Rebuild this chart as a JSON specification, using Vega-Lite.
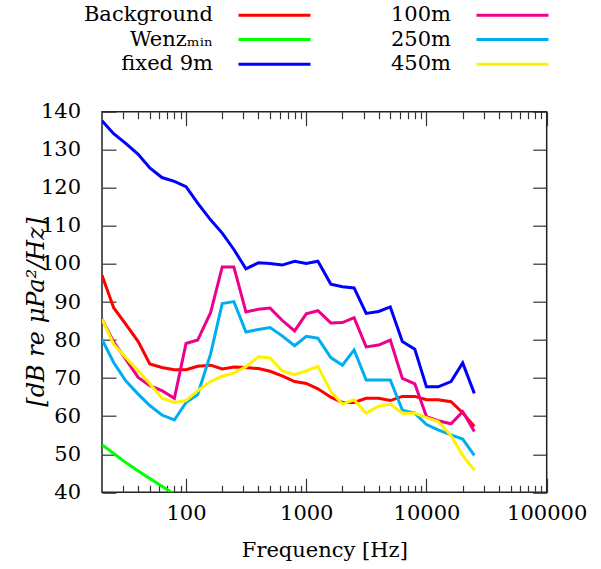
{
  "$schema": "https://vega.github.io/schema/vega-lite/v6.json",
  "width": 444.7,
  "height": 380.6,
  "autosize": "none",
  "padding": {"left": 102, "top": 111.7, "right": 54.3, "bottom": 76.7},
  "background": "white",
  "config": {
    "view": {"stroke": "#222", "strokeWidth": 1.5},
    "axis": {"grid": false, "domain": false, "tickColor": "#333", "tickWidth": 1.2, "labelColor": "black", "titleColor": "black", "labelFontSize": 21, "titleFontSize": 21, "titleFontWeight": "normal"}
  },
  "data": {
    "values": [
      {"f": 20, "v": 97.0, "s": "Background"}, {"f": 25, "v": 88.5, "s": "Background"}, {"f": 31.5, "v": 84.2, "s": "Background"}, {"f": 40, "v": 79.6, "s": "Background"}, {"f": 50, "v": 73.7, "s": "Background"}, {"f": 63, "v": 72.8, "s": "Background"}, {"f": 80, "v": 72.2, "s": "Background"}, {"f": 100, "v": 72.2, "s": "Background"}, {"f": 125, "v": 73.1, "s": "Background"}, {"f": 160, "v": 73.4, "s": "Background"}, {"f": 200, "v": 72.4, "s": "Background"}, {"f": 250, "v": 72.9, "s": "Background"}, {"f": 315, "v": 72.8, "s": "Background"}, {"f": 400, "v": 72.5, "s": "Background"}, {"f": 500, "v": 71.8, "s": "Background"}, {"f": 630, "v": 70.6, "s": "Background"}, {"f": 800, "v": 69.1, "s": "Background"}, {"f": 1000, "v": 68.6, "s": "Background"}, {"f": 1250, "v": 67.2, "s": "Background"}, {"f": 1600, "v": 65.0, "s": "Background"}, {"f": 2000, "v": 63.6, "s": "Background"}, {"f": 2500, "v": 63.6, "s": "Background"}, {"f": 3150, "v": 64.7, "s": "Background"}, {"f": 4000, "v": 64.7, "s": "Background"}, {"f": 5000, "v": 64.1, "s": "Background"}, {"f": 6300, "v": 65.2, "s": "Background"}, {"f": 8000, "v": 65.2, "s": "Background"}, {"f": 10000, "v": 64.3, "s": "Background"}, {"f": 12500, "v": 64.3, "s": "Background"}, {"f": 16000, "v": 63.8, "s": "Background"}, {"f": 20000, "v": 60.9, "s": "Background"}, {"f": 25000, "v": 57.3, "s": "Background"},
      {"f": 20, "v": 52.5, "s": "Wenzₘᵢₙ"}, {"f": 25, "v": 50.2, "s": "Wenzₘᵢₙ"}, {"f": 31.5, "v": 47.8, "s": "Wenzₘᵢₙ"}, {"f": 40, "v": 45.6, "s": "Wenzₘᵢₙ"}, {"f": 50, "v": 43.6, "s": "Wenzₘᵢₙ"}, {"f": 63, "v": 41.6, "s": "Wenzₘᵢₙ"}, {"f": 80, "v": 39.5, "s": "Wenzₘᵢₙ"}, {"f": 100, "v": 37.5, "s": "Wenzₘᵢₙ"},
      {"f": 20, "v": 137.6, "s": "fixed 9m"}, {"f": 25, "v": 134.2, "s": "fixed 9m"}, {"f": 31.5, "v": 131.7, "s": "fixed 9m"}, {"f": 40, "v": 128.8, "s": "fixed 9m"}, {"f": 50, "v": 125.2, "s": "fixed 9m"}, {"f": 63, "v": 122.7, "s": "fixed 9m"}, {"f": 80, "v": 121.7, "s": "fixed 9m"}, {"f": 100, "v": 120.3, "s": "fixed 9m"}, {"f": 125, "v": 116.0, "s": "fixed 9m"}, {"f": 160, "v": 111.6, "s": "fixed 9m"}, {"f": 200, "v": 108.1, "s": "fixed 9m"}, {"f": 250, "v": 103.8, "s": "fixed 9m"}, {"f": 315, "v": 98.7, "s": "fixed 9m"}, {"f": 400, "v": 100.3, "s": "fixed 9m"}, {"f": 500, "v": 100.1, "s": "fixed 9m"}, {"f": 630, "v": 99.7, "s": "fixed 9m"}, {"f": 800, "v": 100.7, "s": "fixed 9m"}, {"f": 1000, "v": 100.1, "s": "fixed 9m"}, {"f": 1250, "v": 100.7, "s": "fixed 9m"}, {"f": 1600, "v": 94.7, "s": "fixed 9m"}, {"f": 2000, "v": 94.0, "s": "fixed 9m"}, {"f": 2500, "v": 93.7, "s": "fixed 9m"}, {"f": 3150, "v": 87.0, "s": "fixed 9m"}, {"f": 4000, "v": 87.5, "s": "fixed 9m"}, {"f": 5000, "v": 88.7, "s": "fixed 9m"}, {"f": 6300, "v": 79.6, "s": "fixed 9m"}, {"f": 8000, "v": 77.6, "s": "fixed 9m"}, {"f": 10000, "v": 67.7, "s": "fixed 9m"}, {"f": 12500, "v": 67.7, "s": "fixed 9m"}, {"f": 16000, "v": 69.1, "s": "fixed 9m"}, {"f": 20000, "v": 74.0, "s": "fixed 9m"}, {"f": 25000, "v": 66.0, "s": "fixed 9m"},
      {"f": 20, "v": 85.5, "s": "100m"}, {"f": 25, "v": 79.5, "s": "100m"}, {"f": 31.5, "v": 75.0, "s": "100m"}, {"f": 40, "v": 70.2, "s": "100m"}, {"f": 50, "v": 68.0, "s": "100m"}, {"f": 63, "v": 66.7, "s": "100m"}, {"f": 80, "v": 64.7, "s": "100m"}, {"f": 100, "v": 79.1, "s": "100m"}, {"f": 125, "v": 80.0, "s": "100m"}, {"f": 160, "v": 87.2, "s": "100m"}, {"f": 200, "v": 99.2, "s": "100m"}, {"f": 250, "v": 99.2, "s": "100m"}, {"f": 315, "v": 87.4, "s": "100m"}, {"f": 400, "v": 88.1, "s": "100m"}, {"f": 500, "v": 88.4, "s": "100m"}, {"f": 630, "v": 85.2, "s": "100m"}, {"f": 800, "v": 82.4, "s": "100m"}, {"f": 1000, "v": 86.9, "s": "100m"}, {"f": 1250, "v": 87.7, "s": "100m"}, {"f": 1600, "v": 84.5, "s": "100m"}, {"f": 2000, "v": 84.6, "s": "100m"}, {"f": 2500, "v": 85.9, "s": "100m"}, {"f": 3150, "v": 78.2, "s": "100m"}, {"f": 4000, "v": 78.7, "s": "100m"}, {"f": 5000, "v": 80.0, "s": "100m"}, {"f": 6300, "v": 69.9, "s": "100m"}, {"f": 8000, "v": 68.5, "s": "100m"}, {"f": 10000, "v": 59.9, "s": "100m"}, {"f": 12500, "v": 58.8, "s": "100m"}, {"f": 16000, "v": 58.0, "s": "100m"}, {"f": 20000, "v": 61.2, "s": "100m"}, {"f": 25000, "v": 56.0, "s": "100m"},
      {"f": 20, "v": 80.2, "s": "250m"}, {"f": 25, "v": 74.1, "s": "250m"}, {"f": 31.5, "v": 69.3, "s": "250m"}, {"f": 40, "v": 65.8, "s": "250m"}, {"f": 50, "v": 62.8, "s": "250m"}, {"f": 63, "v": 60.3, "s": "250m"}, {"f": 80, "v": 59.0, "s": "250m"}, {"f": 100, "v": 63.6, "s": "250m"}, {"f": 125, "v": 65.7, "s": "250m"}, {"f": 160, "v": 76.3, "s": "250m"}, {"f": 200, "v": 89.6, "s": "250m"}, {"f": 250, "v": 90.1, "s": "250m"}, {"f": 315, "v": 82.1, "s": "250m"}, {"f": 400, "v": 82.8, "s": "250m"}, {"f": 500, "v": 83.3, "s": "250m"}, {"f": 630, "v": 81.1, "s": "250m"}, {"f": 800, "v": 78.5, "s": "250m"}, {"f": 1000, "v": 81.0, "s": "250m"}, {"f": 1250, "v": 80.5, "s": "250m"}, {"f": 1600, "v": 75.4, "s": "250m"}, {"f": 2000, "v": 73.4, "s": "250m"}, {"f": 2500, "v": 77.4, "s": "250m"}, {"f": 3150, "v": 69.5, "s": "250m"}, {"f": 4000, "v": 69.5, "s": "250m"}, {"f": 5000, "v": 69.5, "s": "250m"}, {"f": 6300, "v": 61.6, "s": "250m"}, {"f": 8000, "v": 60.8, "s": "250m"}, {"f": 10000, "v": 57.8, "s": "250m"}, {"f": 12500, "v": 56.4, "s": "250m"}, {"f": 16000, "v": 55.1, "s": "250m"}, {"f": 20000, "v": 54.0, "s": "250m"}, {"f": 25000, "v": 49.7, "s": "250m"},
      {"f": 20, "v": 85.5, "s": "450m"}, {"f": 25, "v": 78.9, "s": "450m"}, {"f": 31.5, "v": 75.4, "s": "450m"}, {"f": 40, "v": 71.9, "s": "450m"}, {"f": 50, "v": 68.5, "s": "450m"}, {"f": 63, "v": 64.7, "s": "450m"}, {"f": 80, "v": 63.6, "s": "450m"}, {"f": 100, "v": 64.1, "s": "450m"}, {"f": 125, "v": 66.7, "s": "450m"}, {"f": 160, "v": 69.1, "s": "450m"}, {"f": 200, "v": 70.5, "s": "450m"}, {"f": 250, "v": 71.3, "s": "450m"}, {"f": 315, "v": 73.0, "s": "450m"}, {"f": 400, "v": 75.6, "s": "450m"}, {"f": 500, "v": 75.3, "s": "450m"}, {"f": 630, "v": 71.9, "s": "450m"}, {"f": 800, "v": 70.9, "s": "450m"}, {"f": 1000, "v": 71.9, "s": "450m"}, {"f": 1250, "v": 73.1, "s": "450m"}, {"f": 1600, "v": 66.5, "s": "450m"}, {"f": 2000, "v": 63.2, "s": "450m"}, {"f": 2500, "v": 64.3, "s": "450m"}, {"f": 3150, "v": 60.8, "s": "450m"}, {"f": 4000, "v": 62.6, "s": "450m"}, {"f": 5000, "v": 63.2, "s": "450m"}, {"f": 6300, "v": 60.8, "s": "450m"}, {"f": 8000, "v": 60.8, "s": "450m"}, {"f": 10000, "v": 59.6, "s": "450m"}, {"f": 12500, "v": 58.6, "s": "450m"}, {"f": 16000, "v": 54.9, "s": "450m"}, {"f": 20000, "v": 49.7, "s": "450m"}, {"f": 25000, "v": 45.8, "s": "450m"}
    ]
  },
  "resolve": {"axis": {"x": "independent", "y": "independent"}},
  "layer": [
    {
      "mark": {"type": "line", "strokeWidth": 3, "clip": true},
      "encoding": {
        "x": {"field": "f", "type": "quantitative",
          "scale": {"type": "log", "domain": [20, 100000], "nice": false},
          "axis": {"orient": "bottom", "labelFont": "DejaVu Serif", "titleFont": "DejaVu Serif", "values": [100, 1000, 10000, 100000], "format": "d", "tickSize": -14, "labelPadding": 41, "labelBaseline": "alphabetic", "labelFlush": false, "labelOverlap": false, "title": "Frequency [Hz]", "titleBaseline": "alphabetic", "titleY": 64}},
        "y": {"field": "v", "type": "quantitative",
          "scale": {"domain": [40, 140], "nice": false, "zero": false},
          "axis": {"orient": "left", "labelFont": "DejaVu Serif", "titleFont": "DejaVu Serif", "values": [40, 50, 60, 70, 80, 90, 100, 110, 120, 130, 140], "tickSize": -14, "labelPadding": 35.5, "labelFlush": false, "labelOverlap": false, "title": "[dB re μPa²/Hz]", "titleFontStyle": "italic", "titleFontSize": 24, "titleX": -54, "titleY": 200}},
        "color": {"field": "s", "type": "nominal",
          "scale": {"domain": ["Background", "Wenzₘᵢₙ", "fixed 9m", "100m", "250m", "450m"], "range": ["#ff0000", "#00ff00", "#0000ff", "#ec008c", "#00aeef", "#fff200"]},
          "sort": null,
          "legend": {"orient": "none", "legendX": 162, "legendY": -107.2, "columns": 2, "title": null, "symbolType": "M-12,0H12", "symbolSize": 36, "symbolStrokeWidth": 3, "labelFont": "DejaVu Serif", "labelFontSize": 21, "labelColor": "black", "labelAlign": "right", "labelOffset": -72, "columnPadding": 74, "rowPadding": 2.6, "padding": 0, "labelLimit": 400}}
      }
    },
    {
      "mark": {"type": "line", "opacity": 0},
      "encoding": {
        "x": {"field": "f", "type": "quantitative", "axis": {"orient": "bottom", "values": [30, 40, 50, 60, 70, 80, 90, 200, 300, 400, 500, 600, 700, 800, 900, 2000, 3000, 4000, 5000, 6000, 7000, 8000, 9000, 20000, 30000, 40000, 50000, 60000, 70000, 80000, 90000], "tickSize": -7, "labels": false, "title": null}},
        "y": {"field": "v", "type": "quantitative", "axis": {"orient": "right", "values": [40, 50, 60, 70, 80, 90, 100, 110, 120, 130, 140], "tickSize": -14, "labels": false, "title": null}},
        "detail": {"field": "s"}
      }
    },
    {
      "mark": {"type": "line", "opacity": 0},
      "encoding": {
        "x": {"field": "f", "type": "quantitative", "axis": {"orient": "top", "values": [100, 1000, 10000, 100000], "tickSize": -14, "labels": false, "title": null}},
        "y": {"field": "v", "type": "quantitative", "axis": null},
        "detail": {"field": "s"}
      }
    },
    {
      "mark": {"type": "line", "opacity": 0},
      "encoding": {
        "x": {"field": "f", "type": "quantitative", "axis": {"orient": "top", "values": [30, 40, 50, 60, 70, 80, 90, 200, 300, 400, 500, 600, 700, 800, 900, 2000, 3000, 4000, 5000, 6000, 7000, 8000, 9000, 20000, 30000, 40000, 50000, 60000, 70000, 80000, 90000], "tickSize": -7, "labels": false, "title": null}},
        "y": {"field": "v", "type": "quantitative", "axis": null},
        "detail": {"field": "s"}
      }
    }
  ]
}
